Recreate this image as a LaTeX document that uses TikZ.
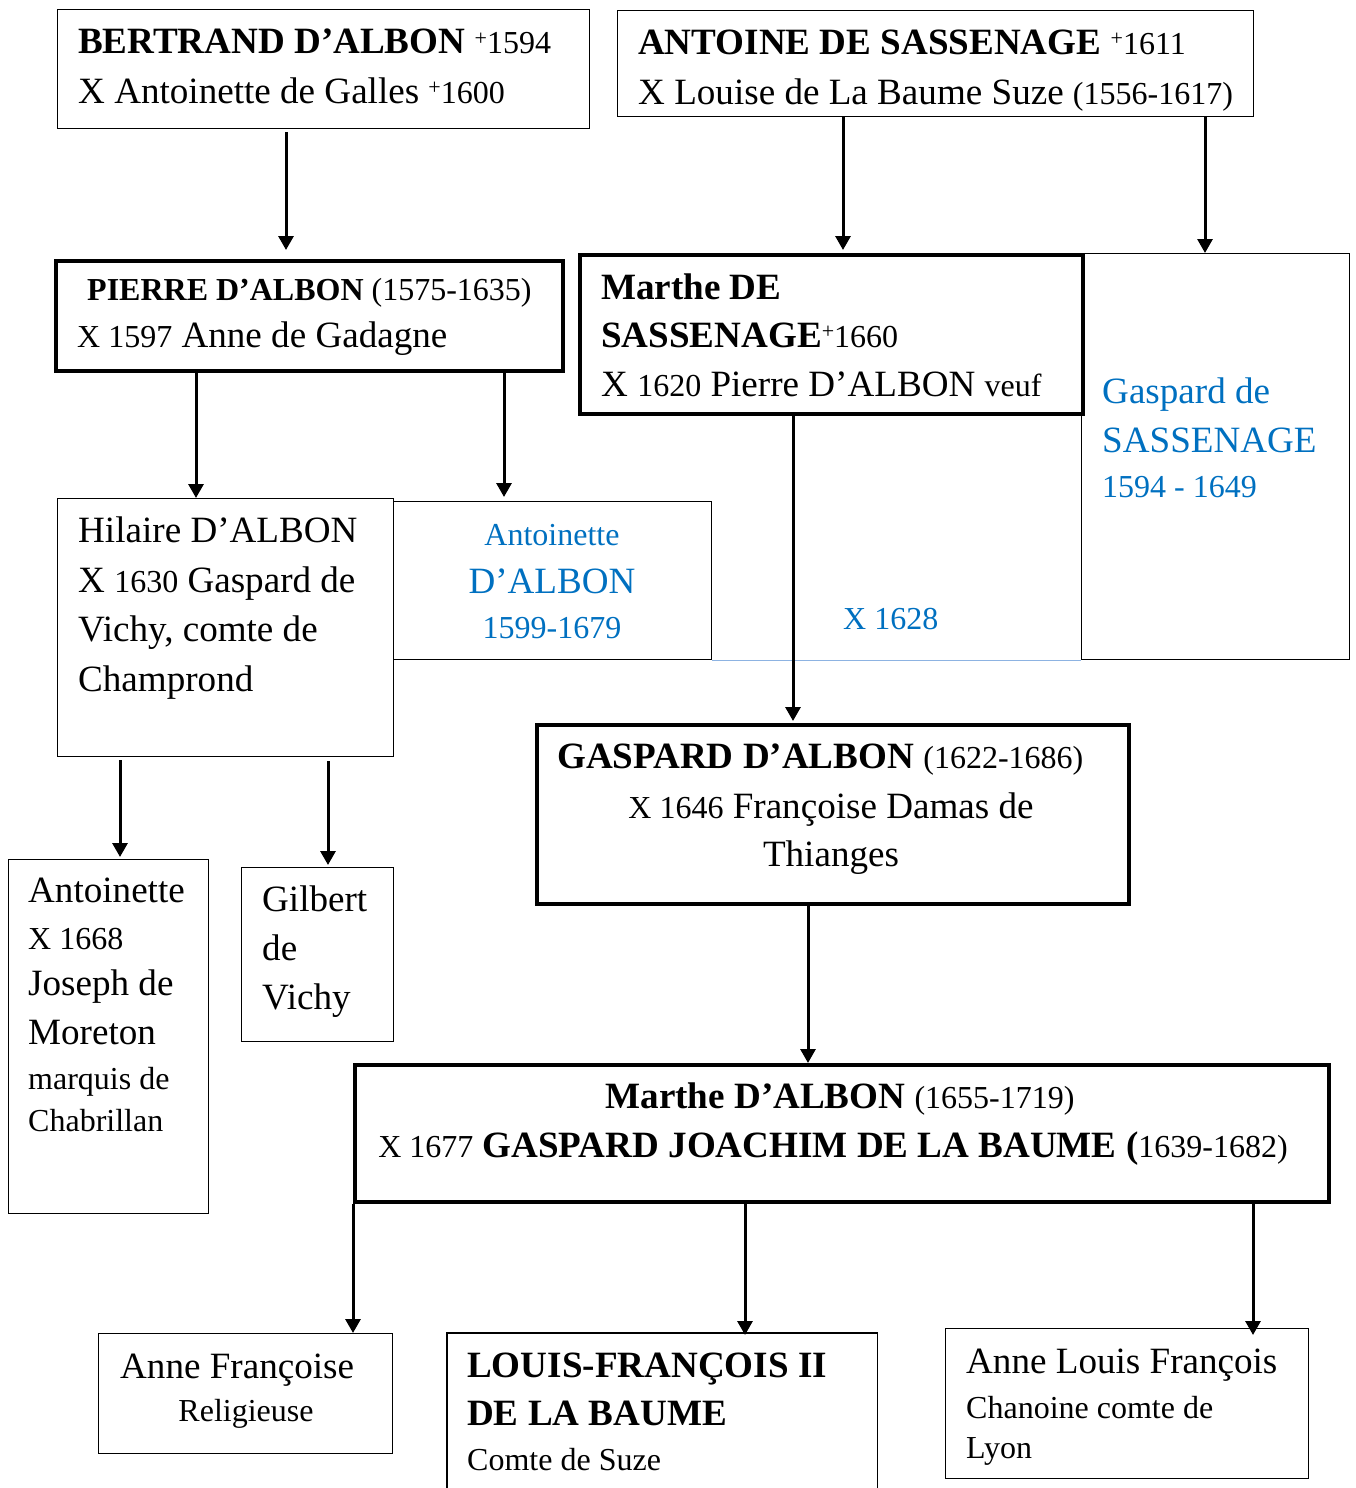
\documentclass[tikz,border=0pt]{standalone}
\usepackage{fontspec}
\setmainfont{Liberation Serif}
\usetikzlibrary{arrows.meta}

\definecolor{nameblue}{HTML}{0070C0}
\definecolor{linkblue}{HTML}{8DB3E2}

% type sizes used in the tree
\newcommand\M{\fontsize{37.1}{40}\selectfont}
\newcommand\Sm{\fontsize{32}{36}\selectfont}
\newcommand\sups[1]{\raisebox{9pt}{\fontsize{22}{22}\selectfont #1}}

\tikzset{
  box/.style={draw, line width=1.3pt, inner sep=0pt, anchor=north west},
  thickbox/.style={box, line width=3.5pt},
  lt/.style={inner sep=0pt, anchor=base west},
  ct/.style={inner sep=0pt, anchor=base},
  bluetxt/.style={text=nameblue},
  arr/.style={line width=3pt, -{Triangle[width=15pt,length=14pt]}},
  link/.style={draw=linkblue, line width=1.5pt}
}

\begin{document}
\begin{tikzpicture}[x=1pt,y=-1pt]
\useasboundingbox (0,0) rectangle (1355,1488);

% ---------- boxes ----------
\node[box, minimum width=532pt, minimum height=119pt] (bertrand) at (57,9) {};
\node[box, minimum width=636pt, minimum height=106pt] (antoine) at (617,10) {};
\node[thickbox, minimum width=507pt, minimum height=110pt] (pierre) at (54,259) {};
\node[thickbox, minimum width=503pt, minimum height=159pt] (marthe) at (578,253) {};
\node[box, minimum width=268pt, minimum height=406pt] (gaspardS) at (1081,253) {};
\node[box, minimum width=336pt, minimum height=258pt] (hilaire) at (57,498) {};
\node[box, minimum width=318pt, minimum height=158pt] (antoinetteA) at (393,501) {};
\node[thickbox, minimum width=592pt, minimum height=179pt] (gaspardA) at (535,723) {};
\node[box, minimum width=200pt, minimum height=354pt] (antoinetteM) at (8,859) {};
\node[box, minimum width=152pt, minimum height=174pt] (gilbert) at (241,867) {};
\node[thickbox, minimum width=974pt, minimum height=137pt] (martheA) at (353,1063) {};
\node[box, minimum width=294pt, minimum height=120pt] (anneF) at (98,1333) {};
\node[inner sep=0pt, anchor=north west, minimum width=430pt, minimum height=165pt] (louis) at (447,1333) {};
\draw[line width=1.3pt] (louis.south west) |- (louis.north east) -- (louis.south east);
\node[box, minimum width=363pt, minimum height=150pt] (anneL) at (945,1328) {};

% ---------- marriage link ----------
\draw[link] (antoinetteA.south east) -- (gaspardS.south west);

% ---------- texts ----------
\node[lt] (t-bertrand1) at (78,54) {\M\textbf{BERTRAND D’ALBON} \sups{+}\Sm 1594};
\node[lt] (t-bertrand2) at (78,103) {\M X Antoinette de Galles \sups{+}\Sm 1600};

\node[lt] (t-antoine1) at (638,55) {\M\textbf{ANTOINE DE SASSENAGE} \sups{+}\Sm 1611};
\node[lt] (t-antoine2) at (638,104) {\M X Louise de La Baume Suze {\Sm (1556-1617)}};

\node[lt] (t-pierre1) at (87,300) {\Sm\textbf{PIERRE D’ALBON} (1575-1635)};
\node[lt] (t-pierre2) at (77,347) {\M{\Sm X 1597} Anne de Gadagne};

\node[lt] (t-marthe1) at (601,299) {\M\textbf{Marthe DE}};
\node[lt] (t-marthe2) at (601,347) {\M\textbf{SASSENAGE}\sups{+}\Sm 1660};
\node[lt] (t-marthe3) at (601,396) {\M X {\Sm 1620} Pierre D’ALBON {\Sm veuf}};

\node[lt, bluetxt] (t-gaspardS1) at (1102,403) {\M Gaspard de};
\node[lt, bluetxt] (t-gaspardS2) at (1102,452) {\M SASSENAGE};
\node[lt, bluetxt] (t-gaspardS3) at (1102,497) {\Sm 1594 - 1649};

\node[lt] (t-hilaire1) at (78,542) {\M Hilaire D’ALBON};
\node[lt] (t-hilaire2) at (78,592) {\M X {\Sm 1630} Gaspard de};
\node[lt] (t-hilaire3) at (78,641) {\M Vichy, comte de};
\node[lt] (t-hilaire4) at (78,691) {\M Champrond};

\node[ct, bluetxt] (t-antoinetteA1) at (552,545) {\Sm Antoinette};
\node[ct, bluetxt] (t-antoinetteA2) at (552,593) {\M D’ALBON};
\node[ct, bluetxt] (t-antoinetteA3) at (552,638) {\Sm 1599-1679};

\node[lt, bluetxt] (t-mariage) at (843,629) {\Sm X 1628};

\node[lt] (t-gaspardA1) at (557,768) {\M\textbf{GASPARD D’ALBON} {\Sm (1622-1686)}};
\node[ct] (t-gaspardA2) at (831,818) {\M{\Sm X 1646} Françoise Damas de};
\node[ct] (t-gaspardA3) at (831,866) {\M Thianges};

\node[lt] (t-antoinetteM1) at (28,902) {\M Antoinette};
\node[lt] (t-antoinetteM2) at (28,949) {\Sm X 1668};
\node[lt] (t-antoinetteM3) at (28,995) {\M Joseph de};
\node[lt] (t-antoinetteM4) at (28,1044) {\M Moreton};
\node[lt] (t-antoinetteM5) at (28,1089) {\Sm marquis de};
\node[lt] (t-antoinetteM6) at (28,1131) {\Sm Chabrillan};

\node[lt] (t-gilbert1) at (262,911) {\M Gilbert};
\node[lt] (t-gilbert2) at (262,960) {\M de};
\node[lt] (t-gilbert3) at (262,1009) {\M Vichy};

\node[ct] (t-martheA1) at (840,1108) {\M\textbf{Marthe D’ALBON} {\Sm (1655-1719)}};
\node[ct] (t-martheA2) at (833,1157) {\M{\Sm X 1677} \textbf{GASPARD JOACHIM DE LA BAUME (}{\Sm 1639-1682)}};

\node[lt] (t-anneF1) at (120,1378) {\M Anne Françoise};
\node[ct] (t-anneF2) at (246,1421) {\Sm Religieuse};

\node[lt] (t-louis1) at (467,1377) {\M\textbf{LOUIS-FRANÇOIS II}};
\node[lt] (t-louis2) at (467,1425) {\M\textbf{DE LA BAUME}};
\node[lt] (t-louis3) at (467,1470) {\Sm Comte de Suze};

\node[lt] (t-anneL1) at (966,1373) {\M Anne Louis François};
\node[lt] (t-anneL2) at (966,1418) {\Sm Chanoine comte de};
\node[lt] (t-anneL3) at (966,1458) {\Sm Lyon};

% ---------- descent arrows ----------
\draw[arr, shorten <=3pt, shorten >=9pt] (bertrand.south -| 286,0) -- (pierre.north -| 286,0);
\draw[arr, shorten >=3pt] (antoine.south -| 843,0) -- (marthe.north -| 843,0);
\draw[arr] (antoine.south -| 1205,0) -- (gaspardS.north -| 1205,0);
\draw[arr] (pierre.south -| 196,0) -- (hilaire.north -| 196,0);
\draw[arr, shorten >=4pt] (pierre.south -| 504,0) -- (antoinetteA.north -| 504,0);
\draw[arr, shorten >=2pt] (marthe.south -| 793,0) -- (gaspardA.north -| 793,0);
\draw[arr, shorten <=3pt, shorten >=2pt] (hilaire.south -| 120,0) -- (antoinetteM.north -| 120,0);
\draw[arr, shorten <=4pt, shorten >=2pt] (hilaire.south -| 328,0) -- (gilbert.north -| 328,0);
\draw[arr] (gaspardA.south -| 808,0) -- (martheA.north -| 808,0);
\draw[arr] (martheA.south -| 353,0) -- (anneF.north -| 353,0);
\draw[arr, shorten >=-2pt] (martheA.south -| 745,0) -- (louis.north -| 745,0);
\draw[arr, shorten >=-7pt] (martheA.south -| 1253,0) -- (anneL.north -| 1253,0);
\end{tikzpicture}
\end{document}
